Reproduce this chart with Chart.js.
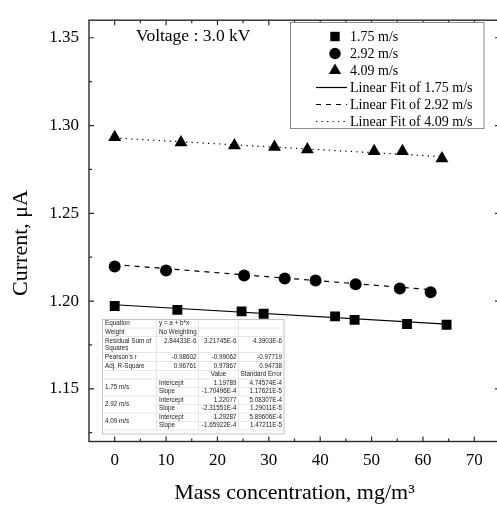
<!DOCTYPE html>
<html><head><meta charset="utf-8">
<script src="https://cdn.jsdelivr.net/npm/chart.js@4.4.1/dist/chart.umd.min.js"></script>
<style>html,body{margin:0;padding:0;background:#fff;overflow:hidden}
#wrap{position:relative;width:500px;height:506px}</style></head>
<body><div id="wrap"><canvas id="c" width="500" height="506"></canvas></div>
<script>
// ---------- data ----------
const seriesLabels = ['1.75 m/s', '2.92 m/s', '4.09 m/s'];
const fitLabels = ['Linear Fit of 1.75 m/s', 'Linear Fit of 2.92 m/s', 'Linear Fit of 4.09 m/s'];

const x175 = [0, 12.2, 24.7, 29.0, 42.9, 46.7, 56.9, 64.6];
const y175 = [1.1972, 1.1950, 1.1941, 1.1928, 1.1913, 1.1893, 1.1869, 1.1865];
const x292 = [0, 10.0, 25.2, 33.1, 39.1, 46.9, 55.5, 61.5];
const y292 = [1.2197, 1.2174, 1.2146, 1.2129, 1.2117, 1.2096, 1.2072, 1.2050];
const x409 = [0, 12.9, 23.3, 31.1, 37.5, 50.5, 56.0, 63.7];
const y409 = [1.2933, 1.2903, 1.2886, 1.2877, 1.2864, 1.2853, 1.2853, 1.2812];

const fitX175 = [0, 64.6], fitY175 = [1.1979, 1.1869];
const fitX292 = [0, 61.5], fitY292 = [1.2208, 1.2065];
const fitX409 = [0, 63.7], fitY409 = [1.2929, 1.2823];

const xTicks = [0, 10, 20, 30, 40, 50, 60, 70];
const xMinorTicks = [5, 15, 25, 35, 45, 55, 65];
const yTicks = [1.15, 1.20, 1.25, 1.30, 1.35];
const yMinorTicks = [1.125, 1.175, 1.225, 1.275, 1.325];

const xTitle = 'Mass concentration, mg/m\u00B3';
const yTitle = 'Current, \u03BCA';
const noteText = 'Voltage : 3.0 kV';

// fit statistics table (text)
const tblHeadRows = [
  ['Equation', 'y = a + b*x', '', ''],
  ['Weight', 'No Weighting', '', ''],
  ['Residual Sum of|Squares', '2.84433E-6', '3.21745E-6', '4.3903E-6'],
  ["Pearson's r", '-0.98602', '-0.99062', '-0.97719'],
  ['Adj. R-Square', '0.96761', '0.97867', '0.94738'],
  ['', '', 'Value', 'Standard Error']
];
const tblParamNames = ['Intercept', 'Slope'];
const tblValues = [['1.19789', '-1.70496E-4'], ['1.22077', '-2.31551E-4'], ['1.29287', '-1.65922E-4']];
const tblErrors = [['4.74574E-4', '1.17621E-5'], ['5.08307E-4', '1.29011E-5'], ['5.89606E-4', '1.47211E-5']];

// ---------- helpers ----------
const pts = (xs, ys) => xs.map((v, i) => ({x: v, y: ys[i]}));
const SERIF = '"Liberation Serif", "Times New Roman", serif';
const SANS = '"Liberation Sans", Arial, sans-serif';

const markerStyles = ['rect', 'circle', 'triangle'];
const markerRadius = [7, 6, 7.5];
const lineDashes = [[], [5, 5], [1.3, 4.2]];

function drawMarker(ctx, style, x, y, r) {
  ctx.beginPath();
  if (style === 'rect') {
    const s = Math.SQRT1_2 * r;
    ctx.rect(x - s, y - s, 2 * s, 2 * s);
  } else if (style === 'circle') {
    ctx.arc(x, y, r, 0, Math.PI * 2);
  } else {
    for (let k = 0; k < 3; k++) {
      const a = k * 2 * Math.PI / 3;
      const px = x + Math.sin(a) * r, py = y - Math.cos(a) * r;
      if (k === 0) ctx.moveTo(px, py); else ctx.lineTo(px, py);
    }
    ctx.closePath();
  }
  ctx.fill();
}

// ---------- plugins ----------
const framePlugin = {
  id: 'frame',
  afterDraw(chart) {
    const {ctx, chartArea: a, scales: {x, y}} = chart;
    ctx.save();
    ctx.strokeStyle = '#2a2a2a';
    ctx.lineWidth = 1.4;
    ctx.strokeRect(a.left, a.top, a.right - a.left, a.bottom - a.top);
    ctx.lineWidth = 1.2;
    ctx.beginPath();
    const tx = (v, len) => {
      const p = x.getPixelForValue(v);
      ctx.moveTo(p, a.bottom); ctx.lineTo(p, a.bottom - len);
      ctx.moveTo(p, a.top); ctx.lineTo(p, a.top + len);
    };
    const ty = (v, len) => {
      const p = y.getPixelForValue(v);
      ctx.moveTo(a.left, p); ctx.lineTo(a.left + len, p);
      ctx.moveTo(a.right, p); ctx.lineTo(a.right - len, p);
    };
    xTicks.forEach(v => tx(v, 5)); xMinorTicks.forEach(v => tx(v, 3));
    yTicks.forEach(v => ty(v, 5)); yMinorTicks.forEach(v => ty(v, 3));
    ctx.stroke();
    ctx.restore();
  }
};

const textPlugin = {
  id: 'texts',
  afterDraw(chart) {
    const {ctx, chartArea: a} = chart;
    ctx.save();
    ctx.fillStyle = '#000';
    // y axis title
    ctx.font = '22px ' + SERIF;
    ctx.textAlign = 'center'; ctx.textBaseline = 'middle';
    ctx.translate(21, 243);
    ctx.rotate(-Math.PI / 2);
    ctx.fillText(yTitle, 0, 0);
    ctx.restore();
    ctx.save();
    ctx.fillStyle = '#000';
    ctx.font = '17.5px ' + SERIF;
    ctx.textAlign = 'left'; ctx.textBaseline = 'middle';
    ctx.fillText(noteText, 136, 36);
    ctx.restore();
  }
};

const legendPlugin = {
  id: 'customLegend',
  afterDraw(chart) {
    const {ctx} = chart;
    const ds = chart.data.datasets;
    const box = {l: 290.5, t: 22.5, r: 484, b: 128.5};
    ctx.save();
    ctx.fillStyle = '#fff';
    ctx.fillRect(box.l, box.t, box.r - box.l, box.b - box.t);
    ctx.strokeStyle = '#8a8a8a'; ctx.lineWidth = 1;
    ctx.strokeRect(box.l, box.t, box.r - box.l, box.b - box.t);
    ctx.font = '14px ' + SERIF;
    ctx.textAlign = 'left'; ctx.textBaseline = 'middle';
    const rowY = k => 36.5 + k * 17;
    ds.forEach((d, k) => {
      const yy = rowY(k);
      ctx.fillStyle = '#000';
      if (d.type === 'scatter') {
        drawMarker(ctx, d.pointStyle, 335, yy, d.pointRadius * 0.95);
      } else {
        ctx.strokeStyle = '#000'; ctx.lineWidth = 1.2;
        ctx.setLineDash(d.borderDash || []);
        ctx.beginPath(); ctx.moveTo(316, yy); ctx.lineTo(347, yy); ctx.stroke();
        ctx.setLineDash([]);
      }
      ctx.fillStyle = '#000';
      ctx.fillText(d.label, 350, yy + 0.5);
    });
    ctx.restore();
  }
};

const tablePlugin = {
  id: 'statsTable',
  afterDraw(chart) {
    const {ctx} = chart;
    const cols = [102.5, 156.5, 198.5, 238.5, 284];
    const heights = [8.5, 8.5, 16, 9, 9, 8.5, 8.5, 8.5, 8.5, 8.5, 8.5, 8.5];
    const top = 319.5;
    const ys = [top];
    heights.forEach(h => ys.push(ys[ys.length - 1] + h));
    const bottom = ys[ys.length - 1] + 4;
    ctx.save();
    ctx.fillStyle = '#fff';
    ctx.fillRect(cols[0], top, cols[4] - cols[0], bottom - top);
    ctx.strokeStyle = '#e0e0e0'; ctx.lineWidth = 0.8;
    ctx.beginPath();
    // horizontal lines
    for (let r = 1; r < ys.length; r++) {
      const inGroupMiddle = (r >= 7 && (r - 7) % 2 === 0);
      ctx.moveTo(inGroupMiddle ? cols[1] : cols[0], ys[r]);
      ctx.lineTo(cols[4], ys[r]);
    }
    // vertical lines
    for (let c = 1; c < 4; c++) { ctx.moveTo(cols[c], top); ctx.lineTo(cols[c], ys[ys.length - 1]); }
    ctx.stroke();
    ctx.strokeStyle = '#c4c4c4'; ctx.lineWidth = 1;
    ctx.strokeRect(cols[0], top, cols[4] - cols[0], bottom - top);

    ctx.fillStyle = '#222';
    ctx.font = '6.3px ' + SANS;
    ctx.textBaseline = 'middle';
    const isNum = s => /^-?[0-9]/.test(s);
    const put = (txt, c, yc) => {
      if (!txt) return;
      if (c === 0) { ctx.textAlign = 'left'; ctx.fillText(txt, cols[0] + 2.5, yc); return; }
      if (isNum(txt)) { ctx.textAlign = 'right'; ctx.fillText(txt, cols[c + 1] - 2, yc); return; }
      if (c >= 2) { ctx.textAlign = 'center'; ctx.fillText(txt, (cols[c] + cols[c + 1]) / 2, yc); return; }
      ctx.textAlign = 'left'; ctx.fillText(txt, cols[c] + 2.5, yc);
    };
    tblHeadRows.forEach((row, r) => {
      const yc = r === 2 ? ys[r] + 4.5 : (ys[r] + ys[r + 1]) / 2;
      row.forEach((txt, c) => {
        if (c === 0 && txt.includes('|')) {
          const parts = txt.split('|');
          put(parts[0], 0, yc); put(parts[1], 0, yc + 7);
        } else put(txt, c, yc);
      });
    });
    seriesLabels.forEach((lab, g) => {
      const r0 = 6 + g * 2;
      put(lab, 0, ys[r0 + 1]);
      tblParamNames.forEach((pn, p) => {
        const yc = (ys[r0 + p] + ys[r0 + p + 1]) / 2;
        put(pn, 1, yc);
        put(tblValues[g][p], 2, yc);
        put(tblErrors[g][p], 3, yc);
      });
    });
    ctx.restore();
  }
};

// ---------- chart ----------
const scatterSets = [[x175, y175], [x292, y292], [x409, y409]].map((xy, k) => ({
  type: 'scatter', label: seriesLabels[k], data: pts(xy[0], xy[1]),
  pointStyle: markerStyles[k], pointRadius: markerRadius[k], pointHoverRadius: markerRadius[k],
  backgroundColor: '#000', borderColor: '#000', borderWidth: 0, showLine: false
}));
const fitSets = [[fitX175, fitY175], [fitX292, fitY292], [fitX409, fitY409]].map((xy, k) => ({
  type: 'line', label: fitLabels[k], data: pts(xy[0], xy[1]),
  borderColor: '#000', borderWidth: 1.2, borderDash: lineDashes[k],
  pointRadius: 0, fill: false, tension: 0
}));

new Chart(document.getElementById('c'), {
  data: {datasets: [...scatterSets, ...fitSets]},
  options: {
    responsive: false, animation: false, devicePixelRatio: 1,
    layout: {padding: {top: 10, left: 0, right: 0, bottom: 0}, autoPadding: false},
    plugins: {legend: {display: false}, tooltip: {enabled: false}, title: {display: false}},
    scales: {
      x: {
        type: 'linear', position: 'bottom', min: -5, max: 75,
        afterBuildTicks: s => { s.ticks = xTicks.map(v => ({value: v})); },
        afterFit: s => { s.height = 64.5; },
        grid: {display: false, drawTicks: false},
        border: {display: false},
        ticks: {color: '#000', font: {family: SERIF, size: 17}, padding: 9, maxRotation: 0,
                callback: v => String(v)},
        title: {display: true, text: xTitle, color: '#000', font: {family: SERIF, size: 22},
                padding: {top: 0, bottom: 0}}
      },
      y: {
        type: 'linear', position: 'left', min: 1.12, max: 1.36,
        afterBuildTicks: s => { s.ticks = yTicks.map(v => ({value: v})); },
        afterFit: s => { s.width = 89; },
        grid: {display: false, drawTicks: false},
        border: {display: false},
        ticks: {color: '#000', font: {family: SERIF, size: 17}, padding: 10,
                callback: v => Number(v).toFixed(2)}
      }
    }
  },
  plugins: [framePlugin, textPlugin, tablePlugin, legendPlugin]
});
</script></body></html>
